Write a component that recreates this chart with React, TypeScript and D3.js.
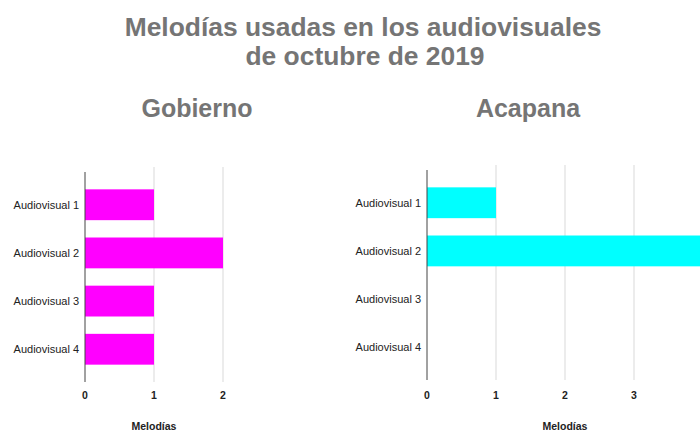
import React from "react";
import * as d3 from "d3";

const categories = ["Audiovisual 1", "Audiovisual 2", "Audiovisual 3", "Audiovisual 4"];
const gobiernoValues = [1, 2, 1, 1];
const acapanaValues = [1, 4, 0, 0];
const gobiernoTicks = [0, 1, 2];
const acapanaTicks = [0, 1, 2, 3, 4];
const titleLines = ["Melodías usadas en los audiovisuales", "de octubre de 2019"];
const axisTitle = "Melodías";

const FONT = "'Liberation Sans', Arial, Helvetica, sans-serif";

type PanelProps = {
  title: string;
  titleX: number;
  values: number[];
  ticks: number[];
  color: string;
  x0: number;
  x1: number;
  y0: number;
  y1: number;
};

function Panel({ title, titleX, values, ticks, color, x0, x1, y0, y1 }: PanelProps) {
  const x = d3.scaleLinear().domain([0, ticks[ticks.length - 1]]).range([x0, x1]);
  const y = d3.scaleBand<string>().domain(categories).range([y0, y1]).paddingInner(0.36).paddingOuter(0.36);
  return (
    <g>
      <text x={titleX} y={117} textAnchor="middle" fontFamily={FONT} fontWeight="bold" fontSize={25} fill="#757575">
        {title}
      </text>
      {ticks.slice(1).map((t) => (
        <line key={"g" + t} x1={x(t)} x2={x(t)} y1={y0 - 5} y2={y1} stroke="#d9d9d9" strokeWidth={1} />
      ))}
      {categories.map((c, i) => (
        <rect key={c} x={x(0)} y={y(c)} width={x(values[i]) - x(0)} height={y.bandwidth()} fill={color} />
      ))}
      <line x1={x(0)} x2={x(0)} y1={y0} y2={y1} stroke="#444" strokeWidth={1} />
      {categories.map((c) => (
        <text key={"l" + c} x={x(0) - 6} y={(y(c) as number) + y.bandwidth() / 2 + 4} textAnchor="end" fontFamily={FONT} fontSize={11} fill="#222">
          {c}
        </text>
      ))}
      {ticks.map((t) => (
        <text key={"t" + t} x={x(t)} y={398.5} textAnchor="middle" fontFamily={FONT} fontWeight="bold" fontSize={10.5} fill="#222">
          {t}
        </text>
      ))}
      <text x={(x0 + x1) / 2} y={430} textAnchor="middle" fontFamily={FONT} fontWeight="bold" fontSize={10.5} fill="#222">
        {axisTitle}
      </text>
    </g>
  );
}

export default function App() {
  return (
    <svg width={700} height={432} style={{ position: "absolute", left: 0, top: 0, background: "#fff" }}>
      <rect width={700} height={432} fill="#fff" />
      <text x={363} y={36} textAnchor="middle" fontFamily={FONT} fontWeight="bold" fontSize={26.4} fill="#757575">
        {titleLines[0]}
      </text>
      <text x={365} y={65} textAnchor="middle" fontFamily={FONT} fontWeight="bold" fontSize={26.4} fill="#757575">
        {titleLines[1]}
      </text>
      <Panel title="Gobierno" titleX={197} values={gobiernoValues} ticks={gobiernoTicks} color="#ff00ff" x0={85} x1={223} y0={172} y1={382} />
      <Panel title="Acapana" titleX={528} values={acapanaValues} ticks={acapanaTicks} color="#00ffff" x0={427} x1={703} y0={170} y1={380} />
    </svg>
  );
}
